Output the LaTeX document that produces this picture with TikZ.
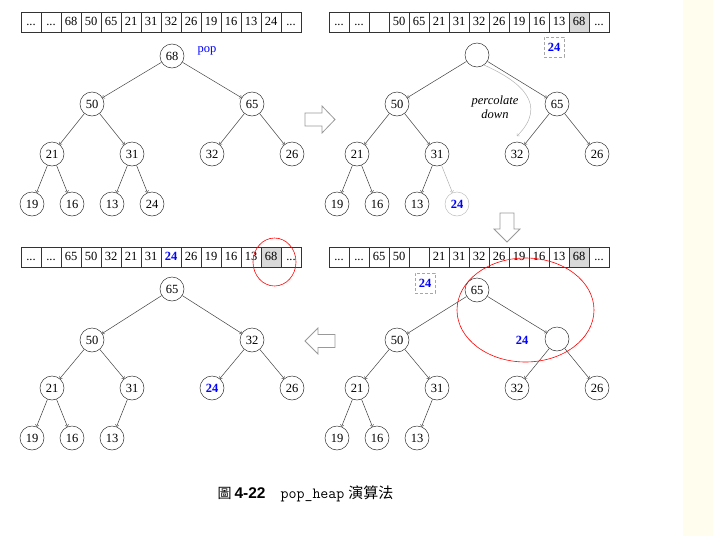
\documentclass[tikz,border=0pt]{standalone}
\usepackage{fontspec}
\setmainfont{Liberation Serif}
\setsansfont{Liberation Sans}
\newfontfamily\cjk{Noto Sans CJK TC}
\definecolor{popblue}{RGB}{0,0,255}
\definecolor{cellgray}{RGB}{217,217,217}
\definecolor{stripyellow}{RGB}{255,253,238}
\newcommand\heapfont{\fontsize{12.5}{14}\selectfont}
\tikzset{
  heapnode/.style={circle,draw=black!80,line width=0.5pt,minimum size=24pt,inner sep=0pt,font=\heapfont},
  cellbox/.style={rectangle,draw=black!80,line width=0.5pt,minimum width=20pt,minimum height=20pt,inner sep=0pt,text height=8.5pt,text depth=2pt,font=\heapfont},
  outcell/.style={cellbox,fill=cellgray},
  moved/.style={text=popblue,font=\heapfont\bfseries},
  dashbox/.style={rectangle,draw=gray!70,densely dashed,line width=0.5pt,minimum size=20pt,inner sep=0pt},
  bigarrow/.style={draw=gray!80,fill=white,line width=0.8pt}
}
\begin{document}
\begin{tikzpicture}[x=1pt,y=-1pt]
  \useasboundingbox (0,0) rectangle (713,536);
  \fill[stripyellow] (683,0) rectangle (713,536);
  % arrays
  \draw
    (31,22) node[cellbox] (Ax0){...}
    (51,22) node[cellbox] (Ax1){...}
    (71,22) node[cellbox] (Ax2){68}
    (91,22) node[cellbox] (Ax3){50}
    (111,22) node[cellbox] (Ax4){65}
    (131,22) node[cellbox] (Ax5){21}
    (151,22) node[cellbox] (Ax6){31}
    (171,22) node[cellbox] (Ax7){32}
    (191,22) node[cellbox] (Ax8){26}
    (211,22) node[cellbox] (Ax9){19}
    (231,22) node[cellbox] (Ax10){16}
    (251,22) node[cellbox] (Ax11){13}
    (271,22) node[cellbox] (Ax12){24}
    (291,22) node[cellbox] (Ax13){...};
  \draw
    (339,22) node[cellbox] (Bx0){...}
    (359,22) node[cellbox] (Bx1){...}
    (379,22) node[cellbox] (Bx2){}
    (399,22) node[cellbox] (Bx3){50}
    (419,22) node[cellbox] (Bx4){65}
    (439,22) node[cellbox] (Bx5){21}
    (459,22) node[cellbox] (Bx6){31}
    (479,22) node[cellbox] (Bx7){32}
    (499,22) node[cellbox] (Bx8){26}
    (519,22) node[cellbox] (Bx9){19}
    (539,22) node[cellbox] (Bx10){16}
    (559,22) node[cellbox] (Bx11){13}
    (579,22) node[outcell] (Bx12){68}
    (599,22) node[cellbox] (Bx13){...};
  \draw
    (339,257) node[cellbox] (Cx0){...}
    (359,257) node[cellbox] (Cx1){...}
    (379,257) node[cellbox] (Cx2){65}
    (399,257) node[cellbox] (Cx3){50}
    (419,257) node[cellbox] (Cx4){}
    (439,257) node[cellbox] (Cx5){21}
    (459,257) node[cellbox] (Cx6){31}
    (479,257) node[cellbox] (Cx7){32}
    (499,257) node[cellbox] (Cx8){26}
    (519,257) node[cellbox] (Cx9){19}
    (539,257) node[cellbox] (Cx10){16}
    (559,257) node[cellbox] (Cx11){13}
    (579,257) node[outcell] (Cx12){68}
    (599,257) node[cellbox] (Cx13){...};
  \draw
    (31,257) node[cellbox] (Dx0){...}
    (51,257) node[cellbox] (Dx1){...}
    (71,257) node[cellbox] (Dx2){65}
    (91,257) node[cellbox] (Dx3){50}
    (111,257) node[cellbox] (Dx4){32}
    (131,257) node[cellbox] (Dx5){21}
    (151,257) node[cellbox] (Dx6){31}
    (171,257) node[cellbox,moved] (Dx7){24}
    (191,257) node[cellbox] (Dx8){26}
    (211,257) node[cellbox] (Dx9){19}
    (231,257) node[cellbox] (Dx10){16}
    (251,257) node[cellbox] (Dx11){13}
    (271,257) node[outcell] (Dx12){68}
    (291,257) node[cellbox] (Dx13){...};
  % trees
  \draw
    (172,56) node[heapnode] (A1){68}
    (92,104) node[heapnode] (A2){50}
    (252,104) node[heapnode] (A3){65}
    (52,154) node[heapnode] (A4){21}
    (132,154) node[heapnode] (A5){31}
    (212,154) node[heapnode] (A6){32}
    (292,154) node[heapnode] (A7){26}
    (32,204) node[heapnode] (A8){19}
    (72,204) node[heapnode] (A9){16}
    (112,204) node[heapnode] (A10){13}
    (152,204) node[heapnode] (A11){24};
  \draw
    (477,55) node[heapnode] (B1){}
    (397,104) node[heapnode] (B2){50}
    (557,104) node[heapnode] (B3){65}
    (357,154) node[heapnode] (B4){21}
    (437,154) node[heapnode] (B5){31}
    (517,154) node[heapnode] (B6){32}
    (597,154) node[heapnode] (B7){26}
    (337,204) node[heapnode] (B8){19}
    (377,204) node[heapnode] (B9){16}
    (417,204) node[heapnode] (B10){13}
    (457,204) node[heapnode,draw=gray!50,moved] (B11){24};
  \draw
    (477,290) node[heapnode] (C1){65}
    (397,340) node[heapnode] (C2){50}
    (557,339) node[heapnode] (C3){}
    (357,388) node[heapnode] (C4){21}
    (437,388) node[heapnode] (C5){31}
    (517,388) node[heapnode] (C6){32}
    (597,388) node[heapnode] (C7){26}
    (337,438) node[heapnode] (C8){19}
    (377,438) node[heapnode] (C9){16}
    (417,438) node[heapnode] (C10){13};
  \draw
    (172,289) node[heapnode] (D1){65}
    (92,340) node[heapnode] (D2){50}
    (252,340) node[heapnode] (D3){32}
    (52,388) node[heapnode] (D4){21}
    (132,388) node[heapnode] (D5){31}
    (212,388) node[heapnode,moved] (D6){24}
    (292,388) node[heapnode] (D7){26}
    (32,438) node[heapnode] (D8){19}
    (72,438) node[heapnode] (D9){16}
    (112,438) node[heapnode] (D10){13};
  \begin{scope}[->,black!75,line width=0.5pt]
    \draw (A1) to (A2);
    \draw (A1) to (A3);
    \draw (A2) to (A4);
    \draw (A2) to (A5);
    \draw (A3) to (A6);
    \draw (A3) to (A7);
    \draw (A4) to (A8);
    \draw (A4) to (A9);
    \draw (A5) to (A10);
    \draw (A5) to (A11);
    \draw (B1) to (B2);
    \draw (B1) to (B3);
    \draw (B2) to (B4);
    \draw (B2) to (B5);
    \draw (B3) to (B6);
    \draw (B3) to (B7);
    \draw (B4) to (B8);
    \draw (B4) to (B9);
    \draw (B5) to (B10);
    \draw[gray!60] (B5) to (B11);
    \draw (C1) to (C2);
    \draw (C1) to (C3);
    \draw (C2) to (C4);
    \draw (C2) to (C5);
    \draw (C3) to (C6);
    \draw (C3) to (C7);
    \draw (C4) to (C8);
    \draw (C4) to (C9);
    \draw (C5) to (C10);
    \draw (D1) to (D2);
    \draw (D1) to (D3);
    \draw (D2) to (D4);
    \draw (D2) to (D5);
    \draw (D3) to (D6);
    \draw (D3) to (D7);
    \draw (D4) to (D8);
    \draw (D4) to (D9);
    \draw (D5) to (D10);
  \end{scope}
  % labels
  \node[text=popblue,font=\heapfont] (pop) at (207,51) {pop};
  \node[dashbox,moved] (Bhold) at (554,47) {24};
  \node[dashbox,moved] (Chold) at (425,283) {24};
  \node[moved] (C24) at (522,340) {24};
  \node[align=center,font=\heapfont\itshape] (perc) at (495,107) {percolate\\down};
  \coordinate (pd) at (517,136);
  \draw[->,gray!60,line width=0.5pt] (B1.-55) .. controls (522,82) and (548,105) .. (pd);
  \draw[red,line width=0.6pt] (274.5,262) ellipse [x radius=21.5,y radius=24];
  \draw[red,line width=0.6pt] (525.5,310) ellipse [x radius=68.5,y radius=52];
  % big arrows
  \draw[bigarrow] (305,113) -- (322,113) -- (322,106) -- (335,119.5) -- (322,133) -- (322,126) -- (305,126) -- cycle;
  \draw[bigarrow] (500,213) -- (514,213) -- (514,229) -- (520,229) -- (507,242) -- (494,229) -- (500,229) -- cycle;
  \draw[bigarrow] (335,334.5) -- (318,334.5) -- (318,328) -- (305,341) -- (318,354) -- (318,347.5) -- (335,347.5) -- cycle;
  % caption
  \node (caption) at (305.5,494) {{\cjk\fontsize{14}{16}\selectfont 圖}\hspace{3pt}{\sffamily\bfseries\fontsize{15.5}{17}\selectfont 4-22}\hspace{15pt}{\ttfamily\fontsize{15.5}{17}\selectfont pop\_heap}\hspace{4pt}{\cjk\fontsize{15}{17}\selectfont 演算法}};
\end{tikzpicture}
\end{document}
